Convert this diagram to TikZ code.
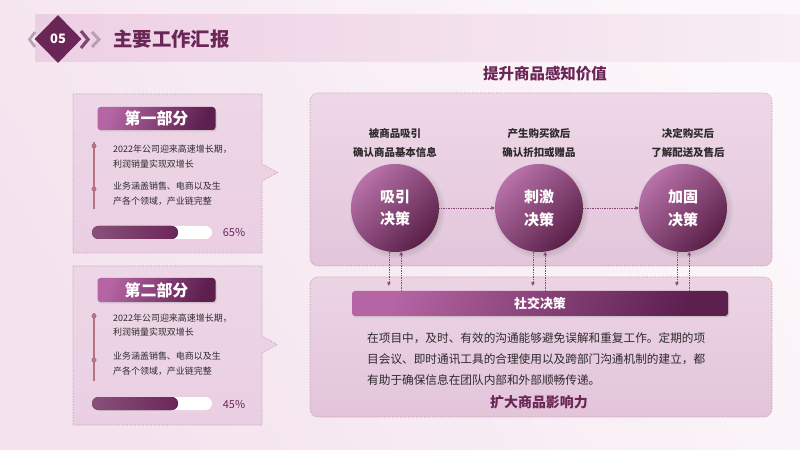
\documentclass[tikz,border=0pt]{standalone}
\usepackage{fontspec}
\setmainfont{Noto Sans CJK SC}
\usetikzlibrary{arrows.meta,shadows,shapes.geometric}

\definecolor{plum}{HTML}{6B2658}
\definecolor{tabL}{HTML}{B565A4}
\definecolor{tabD}{HTML}{5C1F4E}
\definecolor{ballL}{HTML}{B872A8}
\definecolor{ballD}{HTML}{5A2049}
\definecolor{panelline}{HTML}{B791AE}
\definecolor{rose}{HTML}{B57483}
\definecolor{flowline}{HTML}{8A4679}
\definecolor{bodytext}{HTML}{2E2A2D}
\definecolor{bgL}{HTML}{FCF7FA}
\definecolor{bgR}{HTML}{F4E3EE}
\definecolor{band}{HTML}{EDCFE3}
\definecolor{boxfill}{HTML}{EACFE2}
\definecolor{chev}{HTML}{B9A0B4}

\begin{document}
\begin{tikzpicture}[x=1bp, y=-1bp,
	every node/.style={inner sep=0pt, font=\fontsize{9}{11}\selectfont},
	panel/.style={draw=panelline, densely dotted, line width=0.6bp},
	tab/.style={rounded corners=3bp, top color=tabL, bottom color=tabD, shading angle=70, text=white,
		drop shadow={opacity=0.25, shadow xshift=1bp, shadow yshift=-1.5bp}},
	stage/.style={circle, minimum size=88bp, top color=ballL, bottom color=ballD, shading angle=45, text=white,
		align=center, font=\bfseries\fontsize{15}{23}\selectfont,
		circular drop shadow={opacity=0.3, shadow xshift=2bp, shadow yshift=-2bp}},
	flow/.style={densely dotted, draw=flowline, line width=0.7bp, -{Triangle[length=3.5bp, width=3.5bp]}},
	note/.style={anchor=west, text=bodytext},
	dot/.style={circle, fill=rose, minimum size=5bp},
	stagecap/.style={text=bodytext, align=center, font=\bfseries\fontsize{10.5}{19}\selectfont}]
	\useasboundingbox (0,0) rectangle (800,450);
	\shade[top color=bgL, bottom color=bgR, shading angle=-60] (0,0) rectangle (800,450);
	% header
	\shade[left color=band, right color=white!40!bgR] (35,15) rectangle (800,62);
	\draw[line width=2.6bp, chev] (35,32) -- (29.5,39.5) -- (35,47);
	\node[diamond, fill=plum, minimum width=47bp, minimum height=48bp, text=white,
		font=\bfseries\fontsize{13}{13}\selectfont] (num) at (58,39) {05};
	\draw[line width=3.2bp, plum!85] (81,31) -- (88,39.5) -- (81,48);
	\draw[line width=3bp, plum!45] (92,32) -- (99,39.5) -- (92,47);
	\node[anchor=west, text=plum, font=\bfseries\fontsize{19.5}{20}\selectfont] (title) at (113,39) {主要工作汇报};
	% part one
	\draw[panel, top color=white!15!boxfill, bottom color=boxfill] (73,94) -- (262,94) -- (262,164) -- (278,172.5) -- (262,181) -- (262,253) -- (73,253) -- cycle;
	\node[tab, minimum width=118bp, minimum height=23bp, font=\bfseries\fontsize{16}{16}\selectfont] (tab1) at (156.5,118.5) {第一部分};
	\draw[rose, line width=1.3bp] (94,142) -- (94,209);
	\node[dot] (d11) at (94,146) {};
	\node[dot] (d12) at (94,189) {};
	\node[note] (t11) at (113,149) {2022年公司迎来高速增长期，};
	\node[note] (t12) at (113,164) {利润销量实现双增长};
	\node[note] (t13) at (113,186) {业务涵盖销售、电商以及生};
	\node[note] (t14) at (113,201) {产各个领域，产业链完整};
	\fill[white, rounded corners=6.5bp] (92,226) rectangle (212,239);
	\fill[left color=plum!80, right color=plum, rounded corners=6.5bp] (92,226) rectangle (178,239);
	\node[text=plum, font=\fontsize{11}{11}\selectfont] (pc1) at (234,232.5) {65\%};
	% part two
	\draw[panel, top color=white!15!boxfill, bottom color=boxfill] (73,266) -- (262,266) -- (262,336) -- (277,344.5) -- (262,353) -- (262,425) -- (73,425) -- cycle;
	\node[tab, minimum width=118bp, minimum height=24bp, font=\bfseries\fontsize{16}{16}\selectfont] (tab2) at (156.5,290) {第二部分};
	\draw[rose, line width=1.3bp] (94,313) -- (94,381);
	\node[dot] (d21) at (94,316) {};
	\node[dot] (d22) at (94,360) {};
	\node[note] (t21) at (113,318) {2022年公司迎来高速增长期，};
	\node[note] (t22) at (113,332) {利润销量实现双增长};
	\node[note] (t23) at (113,356) {业务涵盖销售、电商以及生};
	\node[note] (t24) at (113,371) {产各个领域，产业链完整};
	\fill[white, rounded corners=6.5bp] (92,397) rectangle (212,410);
	\fill[left color=plum!80, right color=plum, rounded corners=6.5bp] (92,397) rectangle (178,410);
	\node[text=plum, font=\fontsize{11}{11}\selectfont] (pc2) at (234,404) {45\%};
	% value chain
	\node[text=plum, font=\bfseries\fontsize{15.5}{16}\selectfont] (head) at (545,74) {提升商品感知价值};
	\draw[panel, rounded corners=8bp, top color=white!20!boxfill, bottom color=boxfill!94!plum] (310,93) rectangle (772,266);
	\draw[panel, rounded corners=8bp, top color=white!10!boxfill, bottom color=boxfill!94!plum] (310,277) rectangle (772,417);
	\node[stagecap] (l1) at (395,143) {被商品吸引\\确认商品基本信息};
	\node[stagecap] (l2) at (539,143) {产生购买欲后\\确认折扣或赠品};
	\node[stagecap] (l3) at (688,143) {决定购买后\\了解配送及售后};
	\node[stage] (c1) at (395,208) {吸引\\决策};
	\node[stage] (c2) at (539,208) {刺激\\决策};
	\node[stage] (c3) at (683,208) {加固\\决策};
	\draw[flow] (c1) -- (c2);
	\draw[flow] (c2) -- (c3);
	\node[tab, minimum width=376bp, minimum height=25bp, font=\bfseries\fontsize{13}{13}\selectfont] (soc) at (540,303.5) {社交决策};
	\foreach \c in {c1,c2,c3}{
		\draw[flow, shorten >=5bp] (\c.262) -- (\c.262 |- soc.north);
		\draw[flow] (\c.278 |- soc.north) -- (\c.278);
	}
	\node[anchor=west, align=left, text=bodytext, font=\fontsize{11.7}{21}\selectfont] (para) at (367,359) {在项目中，及时、有效的沟通能够避免误解和重复工作。定期的项\\目会议、即时通讯工具的合理使用以及跨部门沟通机制的建立，都\\有助于确保信息在团队内部和外部顺畅传递。};
	\node[text=plum, font=\bfseries\fontsize{14}{14}\selectfont] (foot) at (539,402) {扩大商品影响力};
\end{tikzpicture}
\end{document}
